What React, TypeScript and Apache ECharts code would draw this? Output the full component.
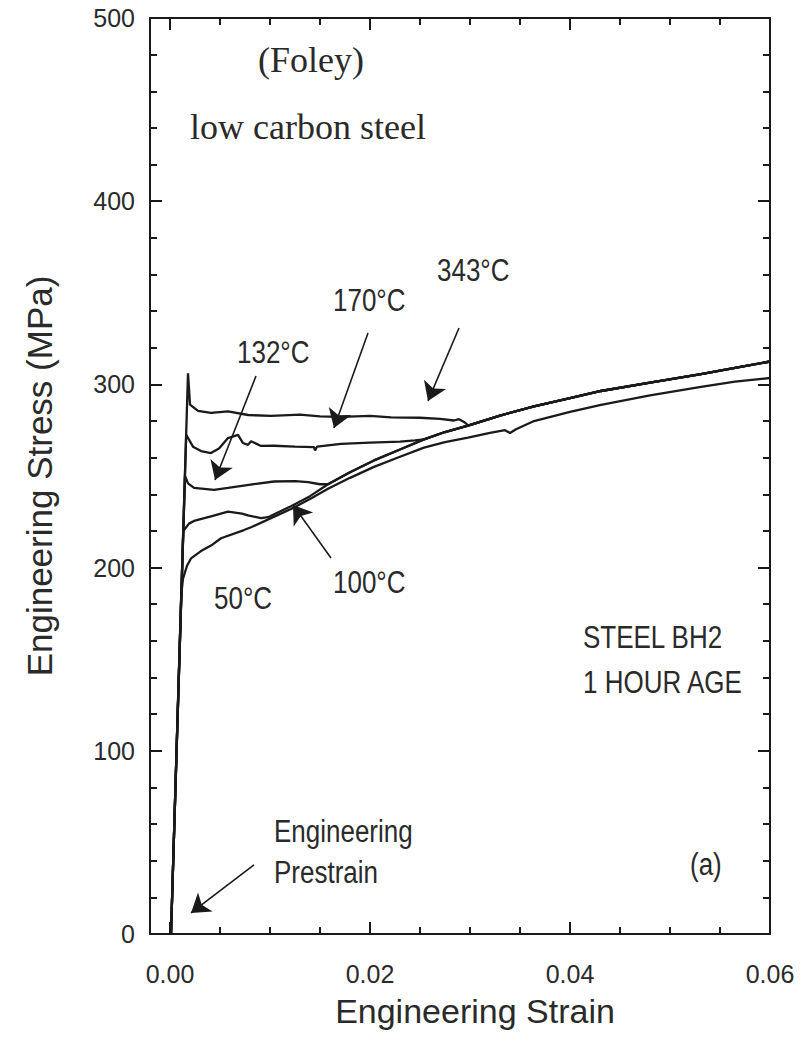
import React, { useEffect, useRef } from "react";
import * as echarts from "echarts";

// ---- axis ticks / labels ----
const xLabelTicks = [0, 0.02, 0.04, 0.06];
const xMajorTicks = [0, 0.02, 0.04];
const xMinorTicks = [0.005, 0.01, 0.015, 0.025, 0.03, 0.035, 0.045, 0.05, 0.055];
const yMajorTicks = [0, 100, 200, 300, 400, 500];

// ---- curve data [strain, stress MPa] ----
const upperHardening: number[][] = [
  [0.0098, 227.5], [0.0121, 233.5], [0.014, 239], [0.0158, 245.5], [0.018, 252],
  [0.0204, 258.5], [0.023, 264.5], [0.0254, 270], [0.0275, 274], [0.0298, 277.5],
  [0.033, 283], [0.0364, 288], [0.04, 292.5], [0.0431, 296.4], [0.048, 301],
  [0.0531, 305.6], [0.0565, 309], [0.06, 312.5],
];
const lowerHardening: number[][] = [
  [0.0101, 227], [0.0121, 232], [0.014, 237.5], [0.0158, 243], [0.018, 249],
  [0.0204, 255], [0.023, 260.5], [0.0254, 265.5], [0.0275, 268.5], [0.0298, 271],
  [0.032, 273.5], [0.0335, 275], [0.034, 273.5], [0.0346, 275.5], [0.0364, 280],
  [0.04, 285], [0.0431, 288.8], [0.048, 294], [0.0531, 298.6], [0.0565, 301.5], [0.06, 303.5],
];
const start50: number[][] = [
  [0.0001, 0], [0.00112, 185], [0.0013, 194], [0.0017, 201], [0.0021, 205], [0.0031, 209],
  [0.0041, 212], [0.0051, 216], [0.0074, 220.5], [0.0081, 222],
];
const start100: number[][] = [
  [0.0001, 0], [0.00133, 220], [0.0019, 224], [0.0024, 225.5], [0.0041, 228], [0.0058, 230.5],
  [0.0072, 229.5], [0.0078, 228.5], [0.0091, 227],
];
const start132: number[][] = [
  [0.0001, 0], [0.0015, 250], [0.0018, 246], [0.0024, 243.5], [0.0044, 242.4], [0.0058, 243.5],
  [0.0084, 245.6], [0.0104, 247], [0.0125, 247.2], [0.0138, 246.7], [0.015, 245.5],
];
const start170: number[][] = [
  [0.0001, 0], [0.00162, 272.5], [0.0023, 266], [0.0031, 263.6], [0.0041, 262.5], [0.0049, 265],
  [0.0058, 270.7], [0.0068, 272.4], [0.0073, 268], [0.0078, 267], [0.0081, 269], [0.0091, 266.4],
  [0.0104, 266.5], [0.0125, 266], [0.0144, 265.8], [0.0145, 264], [0.0147, 266], [0.0171, 267.5],
  [0.02, 268.2], [0.023, 268.8], [0.0245, 269.5],
];
const start343: number[][] = [
  [0.0001, 0], [0.0018, 306], [0.002, 289], [0.0028, 285.5], [0.0041, 284.4], [0.0058, 285.3],
  [0.0078, 283.3], [0.0101, 282.8], [0.013, 283.5], [0.015, 282.6], [0.0171, 282.3], [0.02, 282.8],
  [0.0221, 282], [0.025, 281.8], [0.027, 281.2], [0.0284, 280.3], [0.0289, 281], [0.0294, 279.5],
  [0.0297, 278.2],
];

// annotation arrows [from, to] in data coordinates
const arrows: number[][][] = [
  [[0.0289, 330.8], [0.0258, 291]],
  [[0.0198, 328], [0.0164, 276.2]],
  [[0.0086, 304.6], [0.0045, 247.8]],
  [[0.0161, 205.2], [0.0123, 234.2]],
  [[0.0084, 37.7], [0.0021, 11.5]],
];

const SANS = '"Liberation Sans", Arial, Helvetica, sans-serif';
const SERIF = '"Liberation Serif", "Times New Roman", serif';
const INK = "#1a1a1a";
const TXT = "#2a2a2a";

function tail(curve: number[][], fromStrain: number) {
  return curve.filter((p) => p[0] >= fromStrain);
}

export default function App() {
  const ref = useRef<HTMLDivElement>(null);
  useEffect(() => {
    document.body.style.margin = "0";
    if (!ref.current) return;
    const chart = echarts.init(ref.current, null, { renderer: "svg" });

    const curves = [
      { name: "50°C", data: start50.concat(tail(lowerHardening, 0.0101)) },
      { name: "100°C", data: start100.concat(tail(upperHardening, 0.0098)) },
      { name: "132°C", data: start132.concat(tail(upperHardening, 0.0158)) },
      { name: "170°C", data: start170.concat(tail(upperHardening, 0.0254)) },
      { name: "343°C", data: start343.concat(tail(upperHardening, 0.0298)) },
    ];

    const xBase = { type: "value", min: -0.002, max: 0.06, splitLine: { show: false } };
    const yBase = { type: "value", min: 0, max: 500, splitLine: { show: false } };
    const tickStyle = { color: INK, width: 2 };
    const frameLine = { show: true, onZero: false, lineStyle: { color: INK, width: 2 } };
    const noLine = { show: false, onZero: false };

    const txt = (text: string, x: number, y: number, size = 26, font = SANS, sy = 1.2) => ({
      type: "text",
      x,
      y,
      scaleY: sy,
      style: { text, fontSize: size, fontFamily: font, fill: TXT, verticalAlign: "middle", align: "left" },
    });

    chart.setOption({
      animation: false,
      backgroundColor: "#ffffff",
      grid: { left: 150, top: 18, width: 620, height: 916, containLabel: false },
      xAxis: [
        {
          ...xBase,
          position: "bottom",
          axisLine: frameLine,
          axisTick: { show: true, inside: true, length: 12, customValues: xMajorTicks, lineStyle: tickStyle },
          axisLabel: {
            customValues: xLabelTicks,
            formatter: (v: number) => v.toFixed(2),
            fontSize: 25,
            fontFamily: SANS,
            color: TXT,
            margin: 27,
          },
          name: "Engineering Strain",
          nameLocation: "middle",
          nameGap: 60,
          nameTextStyle: { fontSize: 34, fontFamily: SANS, color: TXT, padding: [0, 0, 0, 30] },
        },
        {
          ...xBase,
          position: "bottom",
          axisLine: noLine,
          axisTick: { show: true, inside: true, length: 7, customValues: xMinorTicks, lineStyle: tickStyle },
          axisLabel: { show: false },
        },
        {
          ...xBase,
          position: "top",
          axisLine: frameLine,
          axisTick: { show: true, inside: true, length: 12, customValues: xMajorTicks, lineStyle: tickStyle },
          axisLabel: { show: false },
        },
        {
          ...xBase,
          position: "top",
          axisLine: noLine,
          axisTick: { show: true, inside: true, length: 7, customValues: xMinorTicks, lineStyle: tickStyle },
          axisLabel: { show: false },
        },
      ],
      yAxis: [
        {
          ...yBase,
          position: "left",
          interval: 100,
          axisLine: frameLine,
          axisTick: { show: true, inside: true, length: 12, lineStyle: tickStyle },
          axisLabel: {
            customValues: yMajorTicks,
            fontSize: 25,
            fontFamily: SANS,
            color: TXT,
            margin: 15,
          },
          name: "Engineering Stress (MPa)",
          nameLocation: "middle",
          nameGap: 93,
          nameTextStyle: { fontSize: 35, fontFamily: SANS, color: TXT },
        },
        {
          ...yBase,
          position: "left",
          interval: 20,
          axisLine: noLine,
          axisTick: { show: true, inside: true, length: 7, lineStyle: tickStyle },
          axisLabel: { show: false },
        },
        {
          ...yBase,
          position: "right",
          interval: 100,
          axisLine: frameLine,
          axisTick: { show: true, inside: true, length: 12, lineStyle: tickStyle },
          axisLabel: { show: false },
        },
        {
          ...yBase,
          position: "right",
          interval: 20,
          axisLine: noLine,
          axisTick: { show: true, inside: true, length: 7, lineStyle: tickStyle },
          axisLabel: { show: false },
        },
      ],
      series: [
        ...curves.map((c) => ({
          name: c.name,
          type: "line",
          xAxisIndex: 0,
          yAxisIndex: 0,
          data: c.data,
          showSymbol: false,
          symbol: "none",
          smooth: false,
          lineStyle: { color: INK, width: 2.3 },
          z: 3,
        })),
        {
          type: "lines",
          coordinateSystem: "cartesian2d",
          xAxisIndex: 0,
          yAxisIndex: 0,
          symbol: ["none", "arrow"],
          symbolSize: [10, 18],
          lineStyle: { color: INK, width: 1.6, opacity: 1 },
          itemStyle: { color: INK },
          data: arrows.map((a) => ({ coords: a })),
          z: 4,
        },
      ],
      graphic: [
        txt("(Foley)", 258, 60, 36, SERIF, 1),
        txt("low carbon steel", 190, 127, 36, SERIF, 1),
        txt("343°C", 437, 270),
        txt("170°C", 333, 300),
        txt("132°C", 237, 352),
        txt("50°C", 214, 598),
        txt("100°C", 333, 582),
        txt("STEEL BH2", 583, 637),
        txt("1 HOUR AGE", 583, 682),
        txt("Engineering", 274, 831),
        txt("Prestrain", 274, 872),
        txt("(a)", 690, 864),
      ],
    });

    return () => chart.dispose();
  }, []);

  return <div ref={ref} style={{ width: 803, height: 1042 }} />;
}
